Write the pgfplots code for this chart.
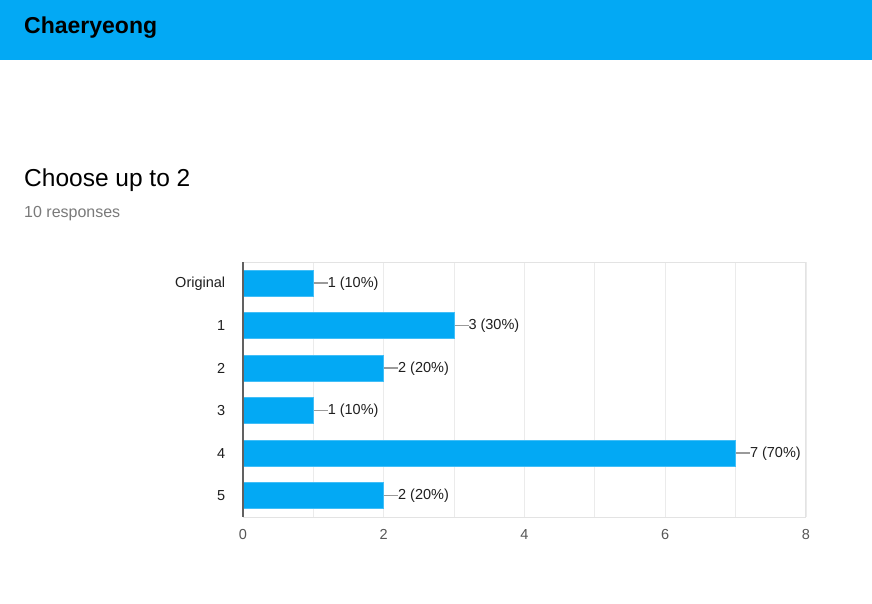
\documentclass[border=0pt]{standalone}
\usepackage{pgfplots}
\pgfplotsset{compat=1.18}
\usepackage{fontspec}
\setmainfont{Liberation Sans}
\definecolor{barblue}{HTML}{03A9F4}
\definecolor{gridgray}{HTML}{EBEBEB}
\definecolor{boxgray}{HTML}{E3E3E3}
\definecolor{leadgray}{HTML}{9A9A9A}
\definecolor{axisdark}{HTML}{616161}
\definecolor{subgray}{HTML}{7A7A7A}
\begin{document}
\begin{tikzpicture}[x=1pt,y=1pt]
\path[use as bounding box] (0,0) rectangle (872,603);
\fill[white] (0,0) rectangle (872,603);
\fill[barblue] (0,543) rectangle (872,603);
\node[anchor=base west, inner sep=0pt, font=\fontsize{23}{27}\selectfont\bfseries] at (24,569) {Chaeryeong};
\node[anchor=base west, inner sep=0pt, font=\fontsize{24.5}{28}\selectfont] at (24,416) {Choose up to 2};
\node[anchor=base west, inner sep=0pt, text=subgray, font=\fontsize{16}{19}\selectfont] at (24,385) {10 responses};
\begin{axis}[
  at={(243pt,86pt)}, anchor=south west,
  scale only axis, width=563pt, height=255pt,
  xbar, bar width=26pt,
  xmin=0, xmax=8, ymin=-0.5, ymax=5.5, y dir=reverse,
  ytick={0,1,2,3,4,5}, yticklabels={Original,1,2,3,4,5},
  xtick={0,2,4,6,8}, minor xtick={1,3,5,7},
  xmajorgrids, xminorgrids,
  major grid style={draw=gridgray, line width=0.8pt},
  minor grid style={draw=gridgray, line width=0.8pt},
  axis line style={draw=boxgray, line width=1pt},
  major tick style={draw=none}, minor tick style={draw=none},
  /pgf/number format/assume math mode=true,
  xticklabel style={text=axisdark!90!black, font=\fontsize{14.5}{17}\selectfont},
  yticklabel style={text=black!88, font=\fontsize{14.5}{17}\selectfont},
  xticklabel shift=9pt, yticklabel shift=10pt,
  point meta=explicit symbolic,
  nodes near coords={\textcolor{leadgray}{\rule[0.22em]{14pt}{1.4pt}}\pgfplotspointmeta},
  nodes near coords style={anchor=west, inner sep=0pt, text=black!88, font=\fontsize{14.5}{17}\selectfont},
  clip=false,
]
\addplot[fill=barblue, draw=barblue!75!white, line width=0.8pt] coordinates {
  (1,0) [1 (10\%)]
  (3,1) [3 (30\%)]
  (2,2) [2 (20\%)]
  (1,3) [1 (10\%)]
  (7,4) [7 (70\%)]
  (2,5) [2 (20\%)]
};
\draw[axisdark, line width=1.3pt] (axis cs:0,-0.5) -- (axis cs:0,5.5);
\end{axis}
\end{tikzpicture}
\end{document}
